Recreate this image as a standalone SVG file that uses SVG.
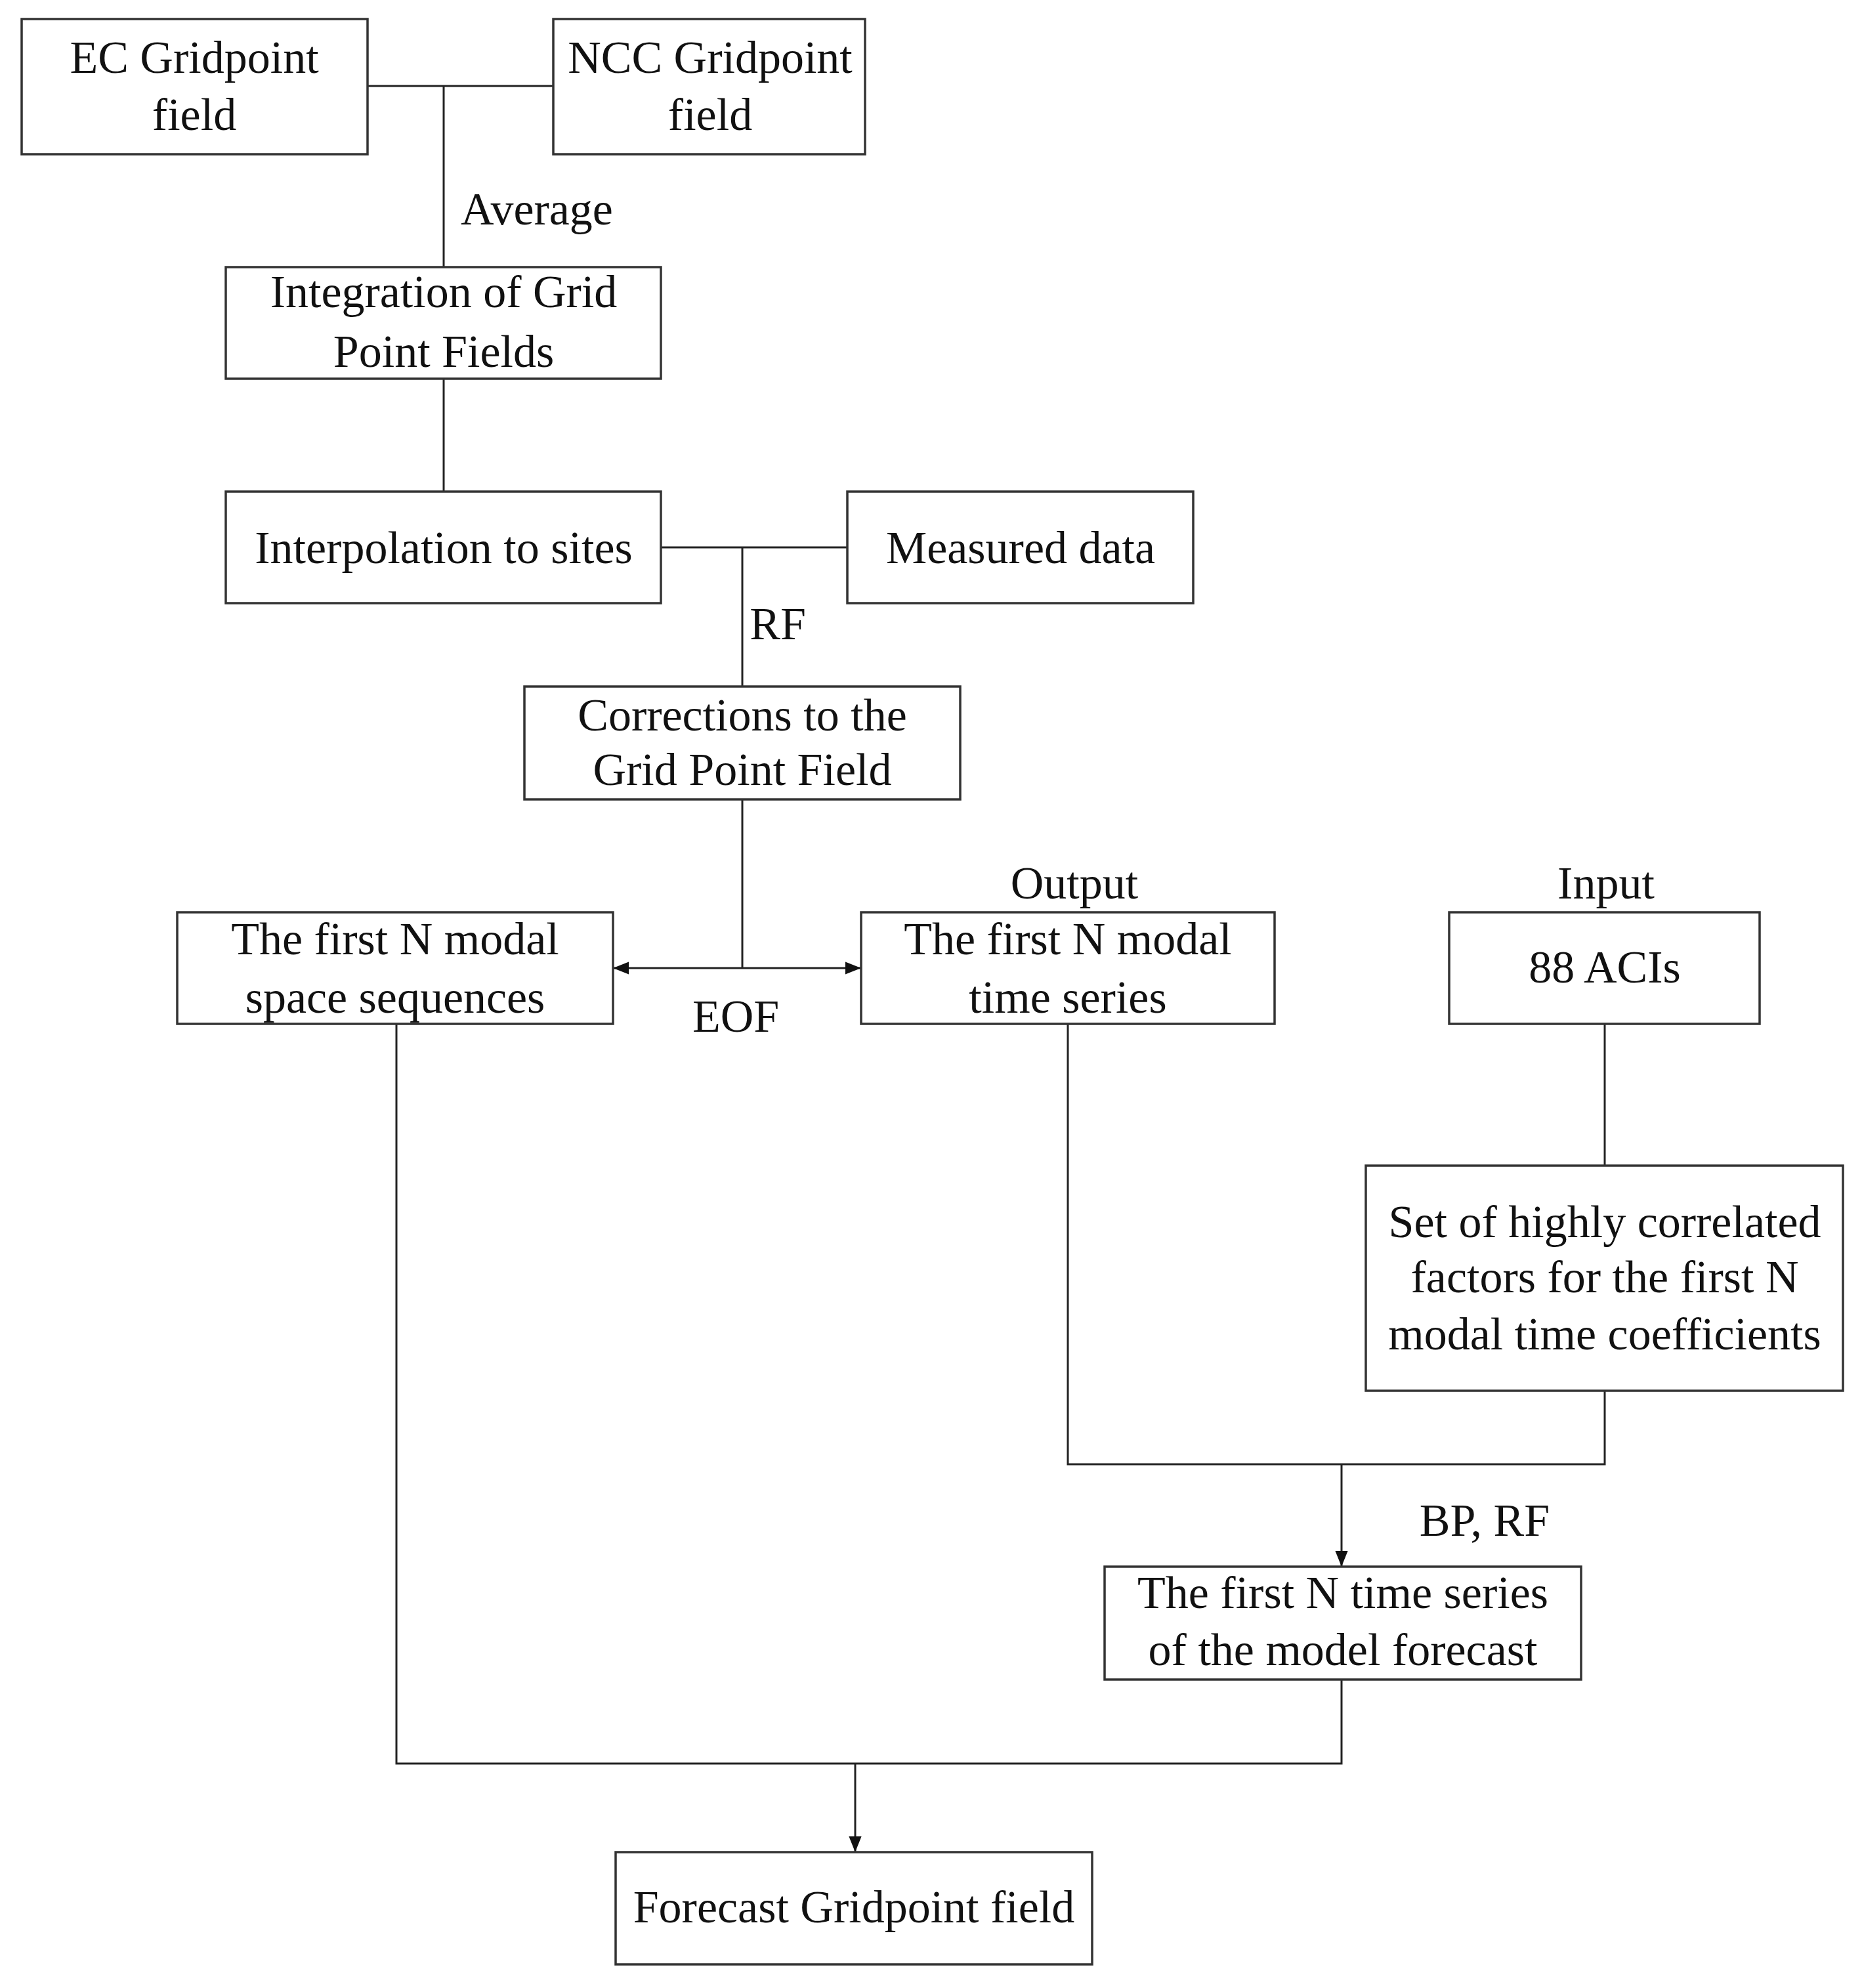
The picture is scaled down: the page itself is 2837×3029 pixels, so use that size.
<svg xmlns="http://www.w3.org/2000/svg" width="2837" height="3029" viewBox="0 0 2837 3029">
<style>
.b{fill:#fff;stroke:#333;stroke-width:3.5}
.c{fill:none;stroke:#222;stroke-width:3}
text{font-family:"Liberation Serif","Times New Roman",serif;font-size:70px;fill:#111;text-anchor:middle;dominant-baseline:central}
</style>
<defs>
<marker id="a" viewBox="0 0 10 10" refX="10" refY="5" markerWidth="8" markerHeight="8" markerUnits="userSpaceOnUse" orient="auto-start-reverse"><path d="M0,0L10,5L0,10z" fill="#111"/></marker>
<marker id="m" viewBox="0 0 10 10" refX="10" refY="5" markerWidth="24" markerHeight="24" markerUnits="userSpaceOnUse" orient="auto-start-reverse"><path d="M0,1L10,5L0,9z" fill="#111"/></marker>
</defs>
<rect width="2837" height="3029" fill="#fff"/>
<g id="connectors">
<path class="c" d="M560,131H843M676,131V407"/>
<path class="c" d="M676,577V749"/>
<path class="c" d="M1007,834H1291M1131,834V1046"/>
<path class="c" d="M1131,1218V1475"/>
<path class="c" d="M934,1475H1312" marker-start="url(#m)" marker-end="url(#m)"/>
<path class="c" d="M2445,1560V1776"/>
<path class="c" d="M1627,1560V2231H2445V2119"/>
<path class="c" d="M2044,2231V2387" marker-end="url(#m)"/>
<path class="c" d="M2044,2559V2687H604V1560"/>
<path class="c" d="M1303,2687V2822" marker-end="url(#m)"/>
</g>
<g id="labels">
<text x="818" y="318">Average</text>
<text x="1185" y="950">RF</text>
<text x="1121" y="1548">EOF</text>
<text x="1637" y="1345">Output</text>
<text x="2447" y="1345">Input</text>
<text x="2262" y="2316">BP, RF</text>
</g>
<g id="ec"><rect class="b" x="33" y="29" width="527" height="206"/><text x="296" y="87">EC Gridpoint</text><text x="296" y="174">field</text></g>
<g id="ncc"><rect class="b" x="843" y="29" width="475" height="206"/><text x="1082" y="87">NCC Gridpoint</text><text x="1082" y="174">field</text></g>
<g id="integration"><rect class="b" x="344" y="407" width="663" height="170"/><text x="676" y="444">Integration of Grid</text><text x="676" y="535">Point Fields</text></g>
<g id="interp"><rect class="b" x="344" y="749" width="663" height="170"/><text x="676" y="834">Interpolation to sites</text></g>
<g id="measured"><rect class="b" x="1291" y="749" width="527" height="170"/><text x="1555" y="834">Measured data</text></g>
<g id="corrections"><rect class="b" x="799" y="1046" width="664" height="172"/><text x="1131" y="1089">Corrections to the</text><text x="1131" y="1172">Grid Point Field</text></g>
<g id="space"><rect class="b" x="270" y="1390" width="664" height="170"/><text x="602" y="1430">The first N modal</text><text x="602" y="1519">space sequences</text></g>
<g id="time"><rect class="b" x="1312" y="1390" width="630" height="170"/><text x="1627" y="1430">The first N modal</text><text x="1627" y="1519">time series</text></g>
<g id="aci"><rect class="b" x="2208" y="1390" width="473" height="170"/><text x="2445" y="1473">88 ACIs</text></g>
<g id="set"><rect class="b" x="2081" y="1776" width="727" height="343"/><text x="2445" y="1861">Set of highly correlated</text><text x="2445" y="1945">factors for the first N</text><text x="2445" y="2032">modal time coefficients</text></g>
<g id="forecastts"><rect class="b" x="1683" y="2387" width="726" height="172"/><text x="2046" y="2426">The first N time series</text><text x="2046" y="2513">of the model forecast</text></g>
<g id="forecast"><rect class="b" x="938" y="2822" width="726" height="171"/><text x="1301" y="2905">Forecast Gridpoint field</text></g>
</svg>
